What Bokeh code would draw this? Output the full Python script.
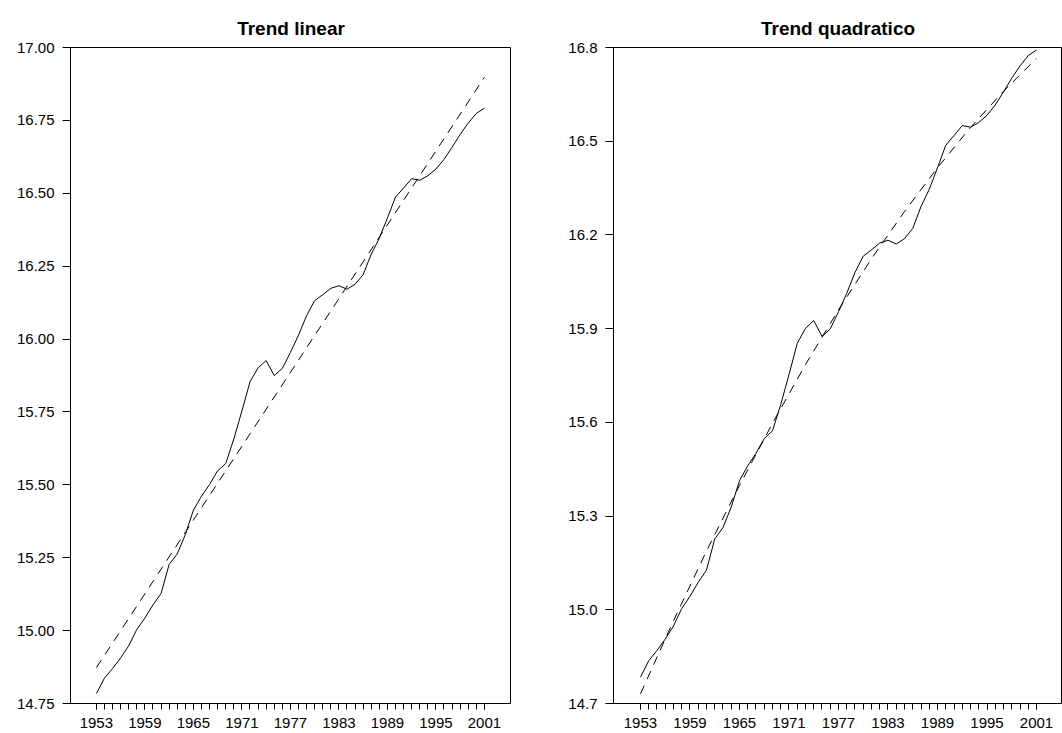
from bokeh.plotting import figure
from bokeh.layouts import row
from bokeh.models import FixedTicker, NumeralTickFormatter, Range1d
from bokeh.embed import file_html
from bokeh.resources import INLINE

# ---- data ----
years = list(range(1953, 2002))
values = [14.784, 14.837, 14.870, 14.906, 14.948, 15.004, 15.043, 15.088, 15.127, 15.227,
          15.263, 15.329, 15.413, 15.461, 15.501, 15.548, 15.573, 15.657, 15.753, 15.853,
          15.901, 15.926, 15.875, 15.899, 15.954, 16.013, 16.080, 16.132, 16.152, 16.174,
          16.183, 16.171, 16.188, 16.221, 16.291, 16.346, 16.415, 16.487, 16.518, 16.550,
          16.545, 16.560, 16.583, 16.616, 16.658, 16.702, 16.741, 16.774, 16.792]

lin_years = [1953, 2001]
lin_trend = [14.873, 16.898]

quad_years = [1953, 1957, 1961, 1965, 1969, 1973, 1977, 1981, 1985, 1989, 1993, 1997, 2001]
quad_trend = [14.731, 14.965, 15.188, 15.398, 15.597, 15.785, 15.960, 16.124, 16.275,
              16.415, 16.544, 16.660, 16.765]

label_years = [1953, 1959, 1965, 1971, 1977, 1983, 1989, 1995, 2001]
left_yticks = [14.75, 15.00, 15.25, 15.50, 15.75, 16.00, 16.25, 16.50, 16.75, 17.00]
right_yticks = [14.7, 15.0, 15.3, 15.6, 15.9, 16.2, 16.5, 16.8]

FONT = "Liberation Sans"


def make_panel(title, x_rng, y_rng, yticks, yfmt, trend_x, trend_y, width, border_left):
    p = figure(width=width, height=733, output_backend="svg", toolbar_location=None,
               x_range=Range1d(*x_rng), y_range=Range1d(*y_rng),
               min_border_left=border_left, min_border_right=0,
               min_border_top=47, min_border_bottom=30)
    p.title.text = title
    p.title.align = "center"
    p.title.text_font = FONT
    p.title.text_font_size = "19px"
    p.title.text_font_style = "bold"
    p.title.text_color = "black"
    p.title.standoff = 17
    p.grid.visible = False
    p.outline_line_color = "black"
    p.outline_line_width = 1
    p.outline_line_alpha = 1.0
    p.background_fill_color = "white"
    p.border_fill_color = "white"

    p.line(years, values, line_color="black", line_width=1)
    p.line(trend_x, trend_y, line_color="black", line_width=1, line_dash="9 7")

    xa = p.xaxis[0]
    xa.ticker = FixedTicker(ticks=label_years, minor_ticks=years)
    xa.axis_line_color = None
    xa.major_tick_in = 0
    xa.major_tick_out = 6
    xa.minor_tick_in = 0
    xa.minor_tick_out = 6
    xa.major_tick_line_color = "black"
    xa.minor_tick_line_color = "black"
    xa.major_label_text_font = FONT
    xa.major_label_text_font_size = "15px"
    xa.major_label_text_color = "black"
    xa.major_label_standoff = 8

    ya = p.yaxis[0]
    ya.ticker = FixedTicker(ticks=yticks, minor_ticks=[])
    ya.formatter = NumeralTickFormatter(format=yfmt)
    ya.axis_line_color = "black"
    ya.major_tick_in = 0
    ya.major_tick_out = 8
    ya.minor_tick_line_color = None
    ya.major_tick_line_color = "black"
    ya.major_label_text_font = FONT
    ya.major_label_text_font_size = "15px"
    ya.major_label_text_color = "black"
    ya.major_label_standoff = 8
    return p


p1 = make_panel("Trend linear", (1949.8, 2004.35), (14.75, 17.00), left_yticks, "0.00",
                lin_years, lin_trend, width=511, border_left=70)
p2 = make_panel("Trend quadratico", (1949.73, 2004.15), (14.7, 16.8), right_yticks, "0.0",
                quad_years, quad_trend, width=551, border_left=102)

layout = row(p1, p2)
open("out.html", "w").write(file_html(layout, INLINE))
